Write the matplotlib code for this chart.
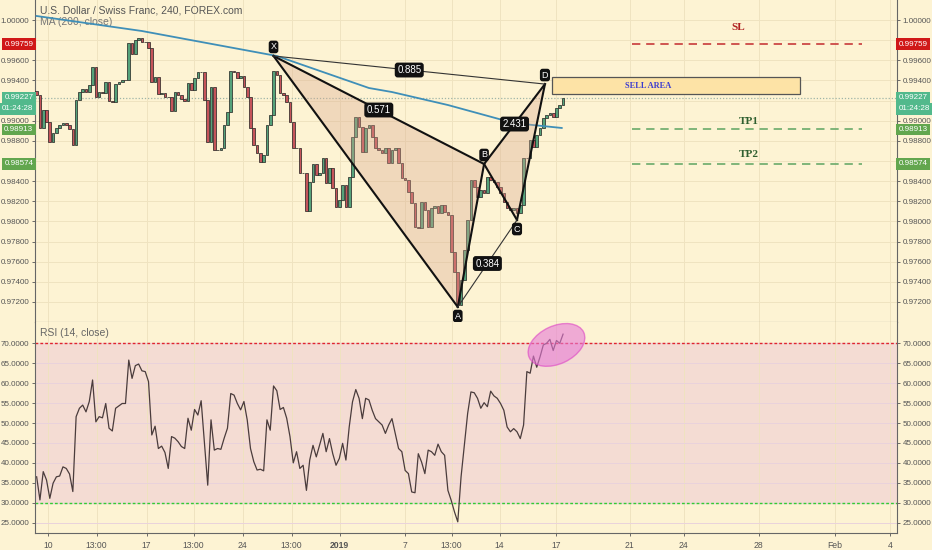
import matplotlib
matplotlib.use("Agg")
import matplotlib.pyplot as plt
import matplotlib.transforms as mtransforms
from matplotlib.patches import Ellipse, Rectangle, Polygon
import numpy as np

plt.rcParams['font.family'] = ['Liberation Sans', 'DejaVu Sans']

# USD/CHF 4h closes (open = previous close)
first_open = 0.99300
closes = [
    0.99255, 0.98928, 0.99106, 0.98987, 0.98789, 0.98878, 0.98928, 0.98957, 0.98977, 0.98957,
    0.98918, 0.98759, 0.99206, 0.99285, 0.99315, 0.99285, 0.99355, 0.99533, 0.99235, 0.99285,
    0.99275, 0.99384, 0.99196, 0.99186, 0.99364, 0.99384, 0.99404, 0.99404, 0.99772, 0.99662,
    0.99801, 0.99821, 0.99782, 0.99782, 0.99722, 0.99384, 0.99434, 0.99265, 0.99275, 0.99235,
    0.99235, 0.99096, 0.99285, 0.99255, 0.99216, 0.99196, 0.99374, 0.99305, 0.99424, 0.99484,
    0.99484, 0.99206, 0.98789, 0.99335, 0.98709, 0.98709, 0.98729, 0.98957, 0.99086, 0.99494,
    0.99484, 0.99424, 0.99444, 0.99335, 0.99235, 0.98928, 0.98759, 0.98679, 0.98590, 0.98659,
    0.98957, 0.99057, 0.99494, 0.99454, 0.99275, 0.99255, 0.99186, 0.98987, 0.98729, 0.98729,
    0.98481, 0.98481, 0.98103, 0.98391, 0.98570, 0.98461, 0.98481, 0.98630, 0.98381, 0.98530,
    0.98332, 0.98143, 0.98213, 0.98361, 0.98143, 0.98441, 0.98838, 0.99037, 0.98938, 0.98689,
    0.98928, 0.98957, 0.98838, 0.98729, 0.98709, 0.98679, 0.98729, 0.98580, 0.98709, 0.98729,
    0.98580, 0.98431, 0.98411, 0.98292, 0.98183, 0.97944, 0.97935, 0.98193, 0.98113, 0.97944,
    0.98133, 0.98153, 0.98083, 0.98163, 0.98093, 0.98064, 0.97696, 0.97498, 0.97170, 0.97418,
    0.97716, 0.98014, 0.98411, 0.98342, 0.98242, 0.98312, 0.98282, 0.98441, 0.98411, 0.98391,
    0.98342, 0.98282, 0.98193, 0.98133, 0.98113, 0.98133, 0.98083, 0.98163, 0.98630, 0.98630,
    0.98808, 0.98739, 0.98858, 0.98928, 0.99027, 0.99057, 0.99077, 0.99037, 0.99126, 0.99156,
    0.99225]

rsi = [
    36.5, 30.7, 37.8, 35.7, 31.1, 34.9, 36.5, 36.7, 39.0, 38.6,
    37.2, 32.8, 51.6, 53.7, 54.5, 52.8, 55.4, 60.8, 50.3, 51.6,
    51.3, 54.9, 48.7, 48.0, 53.7, 54.3, 54.9, 54.9, 65.8, 61.2,
    64.4, 64.8, 63.1, 62.9, 60.4, 47.0, 49.2, 43.6, 44.2, 42.6,
    38.6, 46.6, 46.2, 45.3, 44.1, 43.6, 51.2, 48.2, 53.4, 52.0,
    55.6, 44.9, 34.4, 50.8, 43.2, 43.6, 43.4, 46.2, 48.7, 57.4,
    57.0, 54.9, 53.3, 55.4, 50.8, 43.6, 40.3, 38.2, 38.4, 38.0,
    50.8, 48.2, 59.3, 58.1, 53.4, 53.9, 51.2, 46.6, 40.0, 42.8,
    38.6, 39.4, 33.1, 40.7, 44.4, 41.5, 44.4, 47.4, 42.8, 46.1,
    42.3, 39.4, 41.1, 44.9, 40.7, 49.0, 55.3, 58.4, 56.2, 51.1,
    56.2, 55.8, 53.2, 51.1, 50.3, 49.5, 47.4, 49.5, 51.1, 47.4,
    43.6, 42.8, 38.1, 37.3, 32.7, 32.5, 42.3, 40.2, 37.3, 43.2,
    42.8, 41.9, 44.7, 42.8, 41.9, 33.1, 30.6, 27.7, 25.2, 36.5,
    44.4, 52.4, 57.8, 57.6, 56.2, 53.7, 55.1, 54.1, 58.0, 56.8,
    56.2, 54.9, 53.2, 49.0, 47.8, 48.6, 47.8, 46.1, 49.5, 62.9,
    62.5, 66.8, 64.0, 66.6, 69.6, 70.0, 71.0, 68.2, 70.7, 70.0,
    72.3]

# MA(200) read at a few points along the blue line
ma_idx = [0, 32, 50, 73, 101, 108, 125, 145, 159.6]
ma_val = [1.00040, 0.99891, 0.99782, 0.99643, 0.99325, 0.99285, 0.99156, 0.98977, 0.98928]

# harmonic pattern pivots
piv_names = ['X', 'A', 'B', 'C', 'D']
piv_idx = [72, 128, 136, 146, 154.5]
piv_px = [0.99643, 0.97150, 0.98570, 0.98014, 0.99364]
ratio_legs = [('X', 'D', '0.885'), ('X', 'B', '0.571'), ('A', 'C', '0.384'), ('B', 'D', '2.431')]

last_price = 0.99227
countdown = '01:24:28'
sl, tp1, tp2 = 0.99759, 0.98913, 0.98574
level_from, level_to = 181, 251
sell_area = (156.5, 231.9, 0.99265, 0.99434)

price_ticks = [0.972, 0.974, 0.976, 0.978, 0.980, 0.982, 0.984, 0.986, 0.988,
               0.990, 0.992, 0.994, 0.996, 0.998, 1.000]
covered_ticks = [0.986, 0.992, 0.998]   # sit under the coloured price tags

tick_pos = [3.6, 18.2, 33.4, 47.7, 62.6, 77.5, 92.1, 111.9, 126.1, 140.7, 157.8,
            180.2, 196.7, 219.5, 242.6, 259.3]
tick_lbl = ['10', '13:00', '17', '13:00', '24', '13:00', '2019', '7', '13:00', '14', '17',
            '21', '24', '28', 'Feb', '4']

bg = '#fdf3d3'
txt = '#555555'
fs = 5.8

fig = plt.figure(figsize=(9.32, 5.5), dpi=100)
fig.patch.set_facecolor(bg)
ax = fig.add_axes([35 / 932, 1 - 322 / 550, 862 / 932, 322 / 550])
ax2 = fig.add_axes([35 / 932, 1 - 533 / 550, 862 / 932, 211 / 550], sharex=ax)
for a in (ax, ax2):
    a.set_facecolor(bg)
    for s in a.spines.values():
        s.set_color('#666666')
        s.set_linewidth(0.8)
    a.grid(True, color='#efe3c0', linewidth=0.7)
    a.set_axisbelow(True)
    a.tick_params(labelleft=True, labelright=True, left=True, right=True,
                  labelsize=fs, colors=txt, length=2.5, width=0.6, pad=1.5)
ax.spines['top'].set_visible(False)
ax2.spines['top'].set_visible(False)

# candles
idx = np.arange(len(closes))
opens = [first_open] + closes[:-1]
for i, (o, c) in enumerate(zip(opens, closes)):
    col = '#55a27a' if c >= o else '#c5545a'
    h = c - o if abs(c - o) > 0.00003 else 0.00003
    ax.bar(i, h, bottom=o, width=0.8, color=col, edgecolor='#1e1e1e', linewidth=0.5, zorder=3)

ax.plot(ma_idx, ma_val, color='#3f8fb8', linewidth=1.3, zorder=4)
ax.axhline(last_price, color='#9fb5a8', linestyle=(0, (1, 1.5)), linewidth=0.9, zorder=2)

# pattern
P = dict(zip(piv_names, zip(piv_idx, piv_px)))
for tri in (['X', 'A', 'B'], ['B', 'C', 'D']):
    ax.add_patch(Polygon([P[k] for k in tri], closed=True, facecolor='#d9a78f',
                         alpha=0.35, edgecolor='none', zorder=5))
for a_, b_ in [('X', 'A'), ('A', 'B'), ('X', 'B'), ('B', 'C'), ('C', 'D'), ('B', 'D')]:
    ax.plot([P[a_][0], P[b_][0]], [P[a_][1], P[b_][1]], color='#111111', linewidth=1.5, zorder=6)
for a_, b_ in [('X', 'D'), ('A', 'C')]:
    ax.plot([P[a_][0], P[b_][0]], [P[a_][1], P[b_][1]], color='#333333', linewidth=0.8, zorder=6)
for a_, b_, lab in ratio_legs:
    mx, my = (P[a_][0] + P[b_][0]) / 2, (P[a_][1] + P[b_][1]) / 2
    ax.text(mx, my, lab, color='white', fontsize=7, ha='center', va='center', zorder=8,
            bbox=dict(boxstyle='round,pad=0.25,rounding_size=0.3', fc='#111111', ec='none'))
for name, d in zip(piv_names, [1, -1, 1, -1, 1]):
    ax.annotate(name, P[name], xytext=(0, 6.5 * d), textcoords='offset points',
                color='white', fontsize=6.5, ha='center', va='center', zorder=8,
                bbox=dict(boxstyle='round,pad=0.2,rounding_size=0.3', fc='#111111', ec='none'))

# trade levels
ax.hlines(sl, level_from, level_to, colors='#c83a3a', linestyles=(0, (5, 3.5)), linewidth=1.2, zorder=4)
for lv in (tp1, tp2):
    ax.hlines(lv, level_from, level_to, colors='#6aaa6a', linestyles=(0, (5, 3.5)), linewidth=1.2, zorder=4)
serif = ['Liberation Serif', 'DejaVu Serif']
ax.text(213.4, 0.99921, 'SL', color='#b02020', fontsize=8, fontweight='bold', ha='center', va='center', family=serif)
ax.text(216.4, 0.98997, 'TP1', color='#2f5f2f', fontsize=8, fontweight='bold', ha='center', va='center', family=serif)
ax.text(216.4, 0.98669, 'TP2', color='#2f5f2f', fontsize=8, fontweight='bold', ha='center', va='center', family=serif)
x0, x1, y0, y1 = sell_area
ax.add_patch(Rectangle((x0, y0), x1 - x0, y1 - y0, facecolor='#fde3a6', edgecolor='#555555',
                       linewidth=0.9, zorder=5))
ax.text(186, (y0 + y1) / 2, 'SELL AREA', color='#3a3ad0', fontsize=6, fontweight='bold',
        ha='center', va='center', family=serif, zorder=6)

ax.set_xlim(-0.5, 261.5)
ax.set_ylim(0.97001, 1.00199)
ax.set_yticks(price_ticks)
ax.set_yticklabels(['' if t in covered_ticks else '%.5f' % t for t in price_ticks])
ax.tick_params(axis='x', labelbottom=False, length=0)

# price tags on both sides
blend = mtransforms.blended_transform_factory(ax.transAxes, ax.transData)
tags = [(sl, '%.5f' % sl, '#d01818'), (last_price, '%.5f' % last_price, '#52b98c'),
        (tp1, '%.5f' % tp1, '#62a64e'), (tp2, '%.5f' % tp2, '#62a64e')]
for xs, ha in [(-0.002, 'right'), (1.002, 'left')]:
    for yv, s, fc in tags:
        ax.text(xs, yv, s, transform=blend, ha=ha, va='center', color='white', fontsize=fs,
                clip_on=False, zorder=10,
                bbox=dict(boxstyle='square,pad=0.3', fc=fc, ec='none'))
    tr = mtransforms.offset_copy(blend, fig=fig, y=-11, units='dots')
    ax.text(xs, last_price, countdown, transform=tr, ha=ha, va='center', color='white',
            fontsize=fs, clip_on=False, zorder=10,
            bbox=dict(boxstyle='square,pad=0.3', fc='#52b98c', ec='none'))

ax.text(0.006, 0.968, 'U.S. Dollar / Swiss Franc, 240, FOREX.com', transform=ax.transAxes,
        fontsize=7.5, color='#555555', va='center')
ax.text(0.006, 0.933, 'MA (200, close)', transform=ax.transAxes, fontsize=7.5,
        color='#777777', va='center')

# RSI panel
ax2.axhspan(30, 70, color='#f4dcd3', zorder=0)
ax2.axhline(70, color='#e0252d', linestyle=(0, (2, 1.5)), linewidth=1.0, zorder=2)
ax2.axhline(30, color='#33cc33', linestyle=(0, (2, 1.5)), linewidth=1.0, zorder=2)
ax2.plot(idx, rsi, color='#4a3c3c', linewidth=0.9, zorder=3)
ax2.set_ylim(22.4, 75.35)
ax2.set_yticks(np.arange(25, 71, 5))
ax2.yaxis.set_major_formatter(matplotlib.ticker.FormatStrFormatter('%.4f'))
ax2.grid(axis='y', color='#e9d2dc', linewidth=0.7)
ax2.set_xticks(tick_pos)
ax2.set_xticklabels(tick_lbl)
ax2.tick_params(axis='x', labelsize=6.2, pad=3)
for t in ax2.get_xticklabels():
    if t.get_text() == '2019':
        t.set_fontweight('bold')
ax2.text(0.006, 0.948, 'RSI (14, close)', transform=ax2.transAxes, fontsize=7.5,
         color='#666666', va='center')
ell_tr = fig.dpi_scale_trans + mtransforms.ScaledTranslation(158, 69.6, ax2.transData)
ax2.add_patch(Ellipse((0, 0), 0.60, 0.38, angle=25, transform=ell_tr, facecolor='#e77ad6',
                      alpha=0.6, edgecolor='#dd44c4', linewidth=1.0, zorder=4))

fig.savefig('out.png', dpi=100, facecolor=bg)
